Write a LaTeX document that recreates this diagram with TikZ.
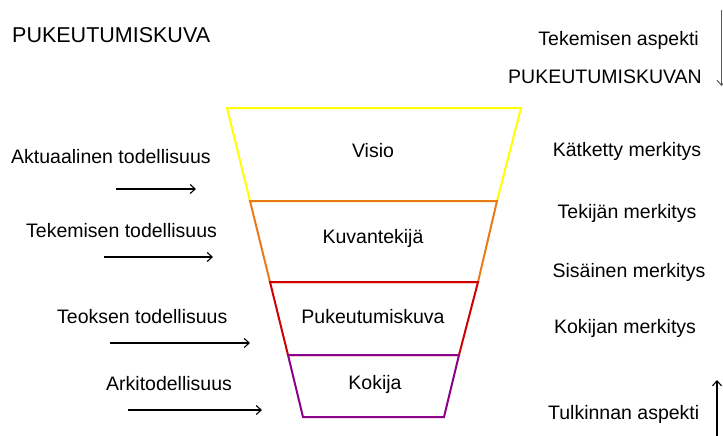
\documentclass[tikz,border=0pt]{standalone}
\usepackage{fontspec}
\setmainfont{Liberation Sans}
\usetikzlibrary{arrows.meta}
\definecolor{cyel}{RGB}{255,255,0}
\definecolor{corange}{RGB}{232,122,24}
\definecolor{cred}{RGB}{208,0,0}
\definecolor{cpurple}{RGB}{140,0,140}
\tikzset{
  lbl/.style={inner sep=0pt, font=\fontsize{19.5}{22}\selectfont},
  seg/.style={line width=2pt, line join=miter},
  arr/.style={line width=1.1pt, -{Straight Barb[length=5pt,width=9pt]}},
}
\begin{document}
\begin{tikzpicture}[x=1pt,y=-1pt]
\useasboundingbox (0,0) rectangle (723,436);
% funnel
\draw[seg,cyel] (227,108) -- (521,108) -- (497,201) -- (250,201) -- cycle;
\draw[seg,corange] (250,201) -- (497,201) -- (478,282) -- (270,282) -- cycle;
\draw[seg,cred] (270,282) -- (478,282) -- (459,355) -- (288,355) -- cycle;
\draw[seg,cpurple] (288,355) -- (459,355) -- (444,417) -- (303,417) -- cycle;
\draw[line width=2pt,corange] (250,201) -- (497,201);
\draw[line width=2pt,cred] (270,282) -- (478,282);
\draw[line width=2pt,cpurple] (288,355) -- (459,355);
\node[lbl] (visio) at (373,151) {Visio};
\node[lbl] (kuvan) at (373,238) {Kuvantekijä};
\node[lbl] (puku) at (373,317) {Pukeutumiskuva};
\node[lbl] (kokija) at (375,384) {Kokija};
% title
\node[lbl, anchor=west, font=\fontsize{21.5}{24}\selectfont] (title) at (12,35) {PUKEUTUMISKUVA};
% left labels and arrows
\node[lbl, anchor=west] (aktu) at (11,157) {Aktuaalinen todellisuus};
\node[lbl, anchor=west] (teke) at (26,231) {Tekemisen todellisuus};
\node[lbl, anchor=west] (teos) at (57,317) {Teoksen todellisuus};
\node[lbl, anchor=west] (arki) at (106,384) {Arkitodellisuus};
\coordinate (a1s) at (116,189); \coordinate (a1e) at (196,189);
\coordinate (a2s) at (104,257); \coordinate (a2e) at (213,257);
\coordinate (a3s) at (110,343); \coordinate (a3e) at (250,343);
\coordinate (a4s) at (128,410); \coordinate (a4e) at (262,410);
\draw[arr] (a1s) -- (a1e);
\draw[arr] (a2s) -- (a2e);
\draw[arr] (a3s) -- (a3e);
\draw[arr] (a4s) -- (a4e);
% right labels
\node[lbl, anchor=east] (tekasp) at (699,40) {Tekemisen aspekti};
\node[lbl, anchor=east] (pukn) at (702,77) {PUKEUTUMISKUVAN};
\node[lbl] (katk) at (627,151) {Kätketty merkitys};
\node[lbl] (tekij) at (627,213) {Tekijän merkitys};
\node[lbl] (sisa) at (629,272) {Sisäinen merkitys};
\node[lbl] (kokm) at (625,328) {Kokijan merkitys};
\node[lbl, anchor=west] (tulk) at (548,414) {Tulkinnan aspekti};
% right vertical arrows
\coordinate (t1s) at (721.5,10); \coordinate (t1e) at (721.5,86);
\draw[line width=1pt, gray!70!black, -{Straight Barb[length=5pt,width=9pt]}] (t1s) -- (t1e);
\coordinate (t2s) at (717,436); \coordinate (t2e) at (717,380);
\draw[arr] (t2s) -- (t2e);
\end{tikzpicture}
\end{document}
